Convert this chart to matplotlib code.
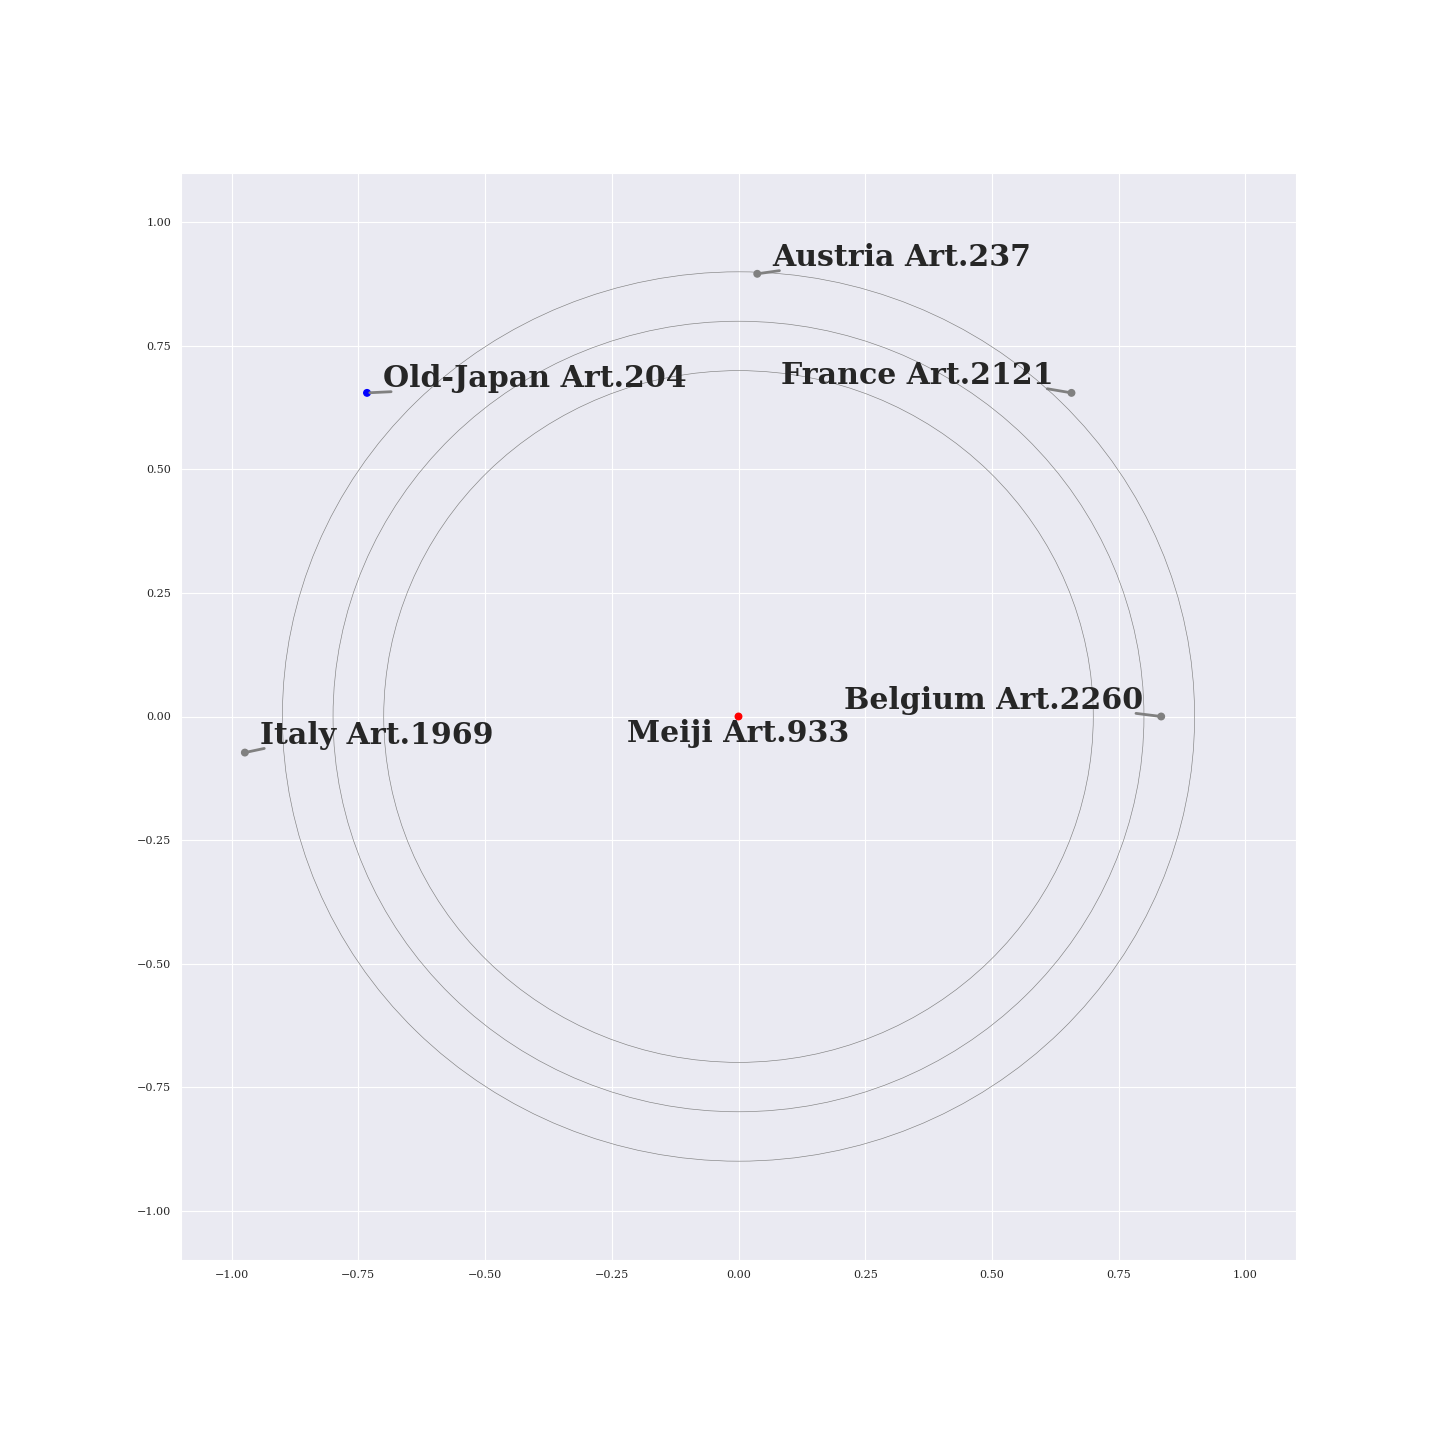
import numpy as np
import matplotlib
matplotlib.use('Agg')
import matplotlib.pyplot as plt
import seaborn as sns

# --- dados ---
nomes = ['Meiji Art.933', 'Old-Japan Art.204', 'Austria Art.237',
         'France Art.2121', 'Belgium Art.2260', 'Italy Art.1969']
pos_x = [0.0, -0.733, 0.037, 0.657, 0.834, -0.974]
pos_y = [0.0, 0.655, 0.896, 0.655, 0.0, -0.073]
cores = ['red', 'blue', 'grey', 'grey', 'grey', 'grey']
# posicao dos rotulos (canto de ancoragem do texto)
rot_x = [0.0, -0.701, 0.067, 0.621, 0.799, -0.944]
rot_y = [-0.006, 0.655, 0.900, 0.661, 0.004, -0.067]
raios = [0.7, 0.8, 0.9]

sns.set_style('darkgrid')
plt.rcParams['font.family'] = ['DejaVu Serif']

fig = plt.figure(figsize=(14.4, 14.4), dpi=100)
ax = fig.add_axes([181 / 1440, 180 / 1440, 1115 / 1440, 1087 / 1440])

for r in raios:
    ax.add_patch(plt.Circle((0, 0), r, fill=False, color='grey', lw=0.45))

ax.scatter(pos_x, pos_y, c=cores, s=22, zorder=3)

alinh = {
    'Meiji Art.933': ('center', 'top', None),
    'Old-Japan Art.204': ('left', 'bottom', (0.026, 0.04)),
    'Austria Art.237': ('left', 'bottom', (0.027, 0.04)),
    'France Art.2121': ('right', 'bottom', (0.978, 0.04)),
    'Belgium Art.2260': ('right', 'bottom', (0.975, 0.04)),
    'Italy Art.1969': ('left', 'bottom', (0.018, 0.04)),
}

for nome, x, y, tx, ty in zip(nomes, pos_x, pos_y, rot_x, rot_y):
    ha, va, rel = alinh[nome]
    if rel is None:
        ax.text(tx, ty, nome, ha=ha, va=va, fontsize=21.6, fontweight='bold',
                color='#262626')
    else:
        ax.annotate(nome, xy=(x, y), xytext=(tx, ty), ha=ha, va=va,
                    fontsize=21.6, fontweight='bold', color='#262626',
                    arrowprops=dict(arrowstyle='-', color='grey', lw=2,
                                    relpos=rel, patchA=None,
                                    shrinkA=0, shrinkB=2))

ax.set_xlim(-1.1, 1.1)
ax.set_ylim(-1.1, 1.1)
ticks = np.arange(-1.0, 1.01, 0.25)
ax.set_xticks(ticks)
ax.set_yticks(ticks)
ax.tick_params(labelsize=8, colors='#262626')

fig.savefig('out.png', dpi=100)
